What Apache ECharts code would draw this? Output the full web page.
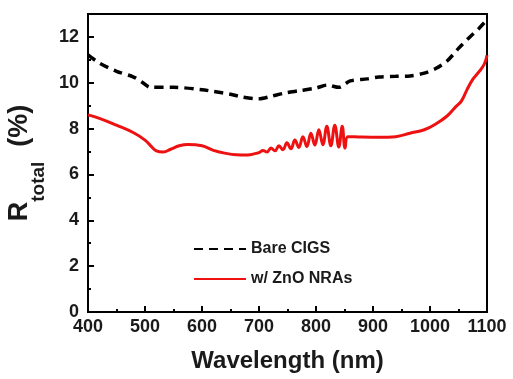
<!DOCTYPE html>
<html><head><meta charset="utf-8">
<script src="https://cdn.jsdelivr.net/npm/echarts@6/dist/echarts.min.js"></script>
<style>html,body{margin:0;padding:0;background:#fff}#c{width:513px;height:379px}</style>
</head><body><div id="c"></div>
<script>
const seriesNames = ['Bare CIGS', 'w/ ZnO NRAs'];
const bareX = [400, 420, 450, 480, 495, 510, 550, 600, 620, 650, 670, 700, 720, 745, 770, 800, 820, 840, 860, 890, 910, 940, 965, 990, 1010, 1030, 1050, 1070, 1085, 1100];
const bareY = [11.22, 10.86, 10.5, 10.25, 10.02, 9.8, 9.8, 9.7, 9.62, 9.5, 9.38, 9.3, 9.4, 9.55, 9.65, 9.77, 9.9, 9.8, 10.08, 10.17, 10.25, 10.28, 10.3, 10.42, 10.62, 10.95, 11.5, 12.0, 12.35, 12.75];
const redX = [400, 420, 450, 480, 500, 510, 520, 532, 545, 560, 575, 600, 620, 640, 660, 680, 695,
  700, 707, 714, 721, 728, 735, 742, 749, 756, 763, 770, 777, 784, 791, 798, 805, 812, 819, 826, 833, 840, 846, 851,
  856, 880, 910, 940, 965, 990, 1010, 1030, 1045, 1055, 1065, 1075, 1085, 1095, 1100];
const redY = [8.6, 8.45, 8.15, 7.82, 7.5, 7.25, 7.03, 6.98, 7.1, 7.25, 7.31, 7.25, 7.05, 6.93, 6.86, 6.85, 6.92,
  6.95, 7.05, 6.98, 7.15, 7.03, 7.25, 7.08, 7.38, 7.12, 7.5, 7.18, 7.65, 7.22, 7.8, 7.28, 7.95, 7.3, 8.1, 7.25, 8.15, 7.2, 8.1, 7.15,
  7.65, 7.63, 7.62, 7.65, 7.8, 7.95, 8.2, 8.55, 8.95, 9.2, 9.7, 10.15, 10.45, 10.8, 11.2];
const xTicks = {min: 400, max: 1100, step: 100};
const yTicks = {min: 0, max: 13, step: 2};

const FF = '"Liberation Sans", Arial, sans-serif';
const chart = echarts.init(document.getElementById('c'), null, {renderer: 'canvas'});
chart.setOption({
  animation: false,
  backgroundColor: '#fff',
  grid: {left: 88, right: 26, top: 14, bottom: 67, show: true, borderColor: '#000', borderWidth: 2, containLabel: false, outerBoundsMode: 'none'},
  legend: {
    orient: 'vertical', left: 188, top: 236, itemWidth: 52, itemHeight: 14, itemGap: 14,
    textStyle: {fontFamily: FF, fontSize: 16, fontWeight: 'bold', color: '#1a1a1a'},
    itemStyle: {opacity: 0},
    data: seriesNames
  },
  xAxis: {
    type: 'value', min: xTicks.min, max: xTicks.max, interval: xTicks.step,
    name: 'Wavelength (nm)', nameLocation: 'middle', nameGap: 37,
    nameTextStyle: {fontFamily: FF, fontSize: 24, fontWeight: 'bold', color: '#1a1a1a'},
    axisLine: {lineStyle: {color: '#000', width: 2}},
    axisTick: {inside: true, length: 6, lineStyle: {color: '#000', width: 2}},
    minorTick: {show: true, splitNumber: 2, length: 3, lineStyle: {color: '#000', width: 2}},
    splitLine: {show: false},
    axisLabel: {fontFamily: FF, fontSize: 18, fontWeight: 'bold', color: '#1a1a1a', margin: 6, formatter: v => String(v)}
  },
  yAxis: {
    type: 'value', min: yTicks.min, max: yTicks.max, interval: yTicks.step,
    name: '{a|R}{b|total}{a|  (%)}', nameLocation: 'middle', nameGap: 37, nameRotate: 90,
    nameTextStyle: {
      padding: [0, 0, 0, 0],
      rich: {
        a: {fontFamily: FF, fontSize: 27, fontWeight: 'bold', color: '#1a1a1a', lineHeight: 28, verticalAlign: 'top'},
        b: {fontFamily: FF, fontSize: 19, fontWeight: 'bold', color: '#1a1a1a', lineHeight: 42, verticalAlign: 'bottom'}
      }
    },
    axisLine: {lineStyle: {color: '#000', width: 2}},
    axisTick: {inside: true, length: 6, lineStyle: {color: '#000', width: 2}},
    minorTick: {show: true, splitNumber: 2, length: 3, lineStyle: {color: '#000', width: 2}},
    splitLine: {show: false},
    axisLabel: {fontFamily: FF, fontSize: 18, fontWeight: 'bold', color: '#1a1a1a', margin: 9, showMaxLabel: false, formatter: v => String(v)}
  },
  series: [
    {name: seriesNames[0], type: 'line', symbol: 'none', smooth: 0.3,
     data: bareX.map((x, i) => [x, bareY[i]]),
     lineStyle: {color: '#000', width: 3.5, type: [9, 6]}, itemStyle: {color: '#000'}},
    {name: seriesNames[1], type: 'line', symbol: 'none', smooth: 0.4,
     data: redX.map((x, i) => [x, redY[i]]),
     lineStyle: {color: '#ee1111', width: 3}, itemStyle: {color: '#ee1111'}}
  ]
});
</script></body></html>
